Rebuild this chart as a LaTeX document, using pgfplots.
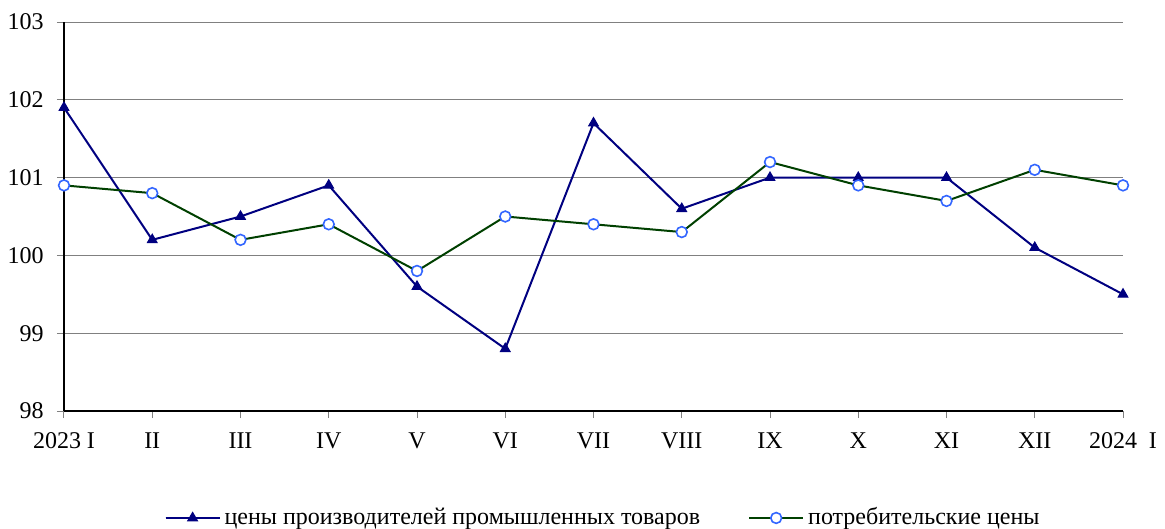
\documentclass[border=0pt]{standalone}
\usepackage{fontspec}
\setmainfont{Liberation Serif}
\usepackage{pgfplots}
\pgfplotsset{compat=1.18}
\definecolor{prodc}{RGB}{0,0,128}
\definecolor{consc}{RGB}{0,64,0}
\definecolor{circc}{RGB}{51,102,255}
\begin{document}
\fontsize{12pt}{14pt}\selectfont
\begin{tikzpicture}
\begin{axis}[
  at={(0,0)}, anchor=south west,
  scale only axis, width=529.5pt, height=194.5pt,
  xmin=0, xmax=12, ymin=98, ymax=103,
  axis x line*=bottom, axis y line*=left,
  axis line style={black, line width=0.6pt, -},
  xtick={0,...,12},
  xticklabels={2023 I,II,III,IV,V,VI,VII,VIII,IX,X,XI,XII,2024\ \ I},
  ytick={98,99,...,103},
  ymajorgrids, grid style={gray, line width=0.5pt},
  tick align=outside, major tick length=3.5pt,
  tick style={gray, line width=0.5pt},
  tick label style={font=\fontsize{12pt}{14pt}\selectfont},
  /pgf/number format/assume math mode=true,
  yticklabel style={xshift=-2.5pt},
  xticklabel style={yshift=-3pt},
  legend columns=2,
  legend style={draw=none, fill=none, at={(0.51,-0.275)}, anchor=center,
    font=\fontsize{12pt}{14pt}\selectfont,
    /tikz/every even column/.append style={column sep=22pt}},
  legend image code/.code={\draw[#1] (0pt,0pt) -- (27pt,0pt); \draw[#1, mark repeat=2, mark phase=2] plot coordinates {(0pt,0pt) (13.5pt,0pt) (27pt,0pt)};},
  clip=false,
]
\addplot[prodc, line width=1pt, mark=triangle*, mark size=2.8pt, mark options={fill=prodc, draw=prodc, line width=0.5pt}]
coordinates {(0,101.9) (1,100.2) (2,100.5) (3,100.9) (4,99.6) (5,98.8) (6,101.7) (7,100.6) (8,101.0) (9,101.0) (10,101.0) (11,100.1) (12,99.5)};
\addlegendentry{цены производителей промышленных товаров}
\addplot[consc, line width=1pt, mark=*, mark size=2.7pt, mark options={fill=white, draw=circc, line width=0.8pt}]
coordinates {(0,100.9) (1,100.8) (2,100.2) (3,100.4) (4,99.8) (5,100.5) (6,100.4) (7,100.3) (8,101.2) (9,100.9) (10,100.7) (11,101.1) (12,100.9)};
\addlegendentry{потребительские цены}
\end{axis}
\pgfresetboundingbox
\path[use as bounding box] (-32pt,-59pt) rectangle (550.5pt,205.5pt);
\end{tikzpicture}
\end{document}
